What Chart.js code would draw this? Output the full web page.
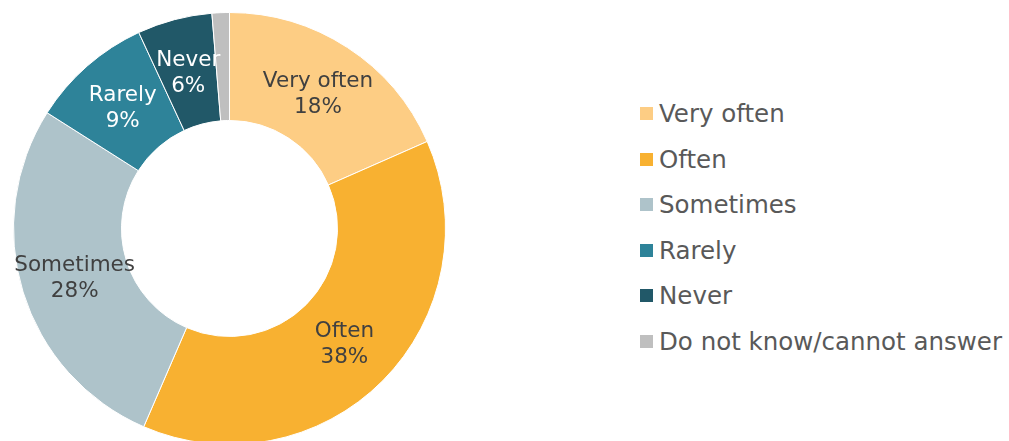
<!DOCTYPE html>
<html>
<head>
<meta charset="utf-8">
<script src="https://cdn.jsdelivr.net/npm/chart.js@4/dist/chart.umd.min.js"></script>
<style>
    html, body { margin: 0; padding: 0; background: #fff; overflow: hidden; width: 1009px; height: 441px; }
    #wrap { position: absolute; left: 13px; top: 12px; width: 433px; height: 433px; }
    #legend { position: absolute; left: 640px; top: 90.7px; font-family: "DejaVu Sans", Verdana, sans-serif; font-size: 24.5px; color: #595959; }
    .row { height: 45.6px; display: flex; align-items: center; white-space: nowrap; }
    .box { width: 13px; height: 13px; margin-right: 6px; flex: none; }
</style>
</head>
<body>
<div id="wrap"><canvas id="pieChart"></canvas></div>
<div id="legend"></div>
<script>
const categories = ['Very often', 'Often', 'Sometimes', 'Rarely', 'Never', 'Do not know/cannot answer'];
const shares = [18.4, 38.1, 27.5, 9.1, 5.6, 1.3];
const colors = ['#FDCD84', '#F8B131', '#AEC3CA', '#2E8399', '#215868', '#BFBFBF'];
const showLabel = [true, true, true, true, true, false];
const labelColors = ['#404040', '#404040', '#404040', '#ffffff', '#ffffff', '#404040'];

// labels inside the slices: name on first line, percent on second
const sliceLabels = {
    id: 'sliceLabels',
    afterDatasetsDraw(chart) {
        const ctx = chart.ctx;
        const arcs = chart.getDatasetMeta(0).data;
        ctx.save();
        ctx.font = '21.5px "DejaVu Sans", Verdana, sans-serif';
        ctx.textAlign = 'center';
        ctx.textBaseline = 'middle';
        arcs.forEach((arc, i) => {
            if (!showLabel[i]) return;
            const p = arc.tooltipPosition();
            ctx.fillStyle = labelColors[i];
            ctx.fillText(categories[i], p.x, p.y - 11);
            ctx.fillText(Math.round(shares[i]) + '%', p.x, p.y + 15);
        });
        ctx.restore();
    }
};

new Chart(document.getElementById('pieChart').getContext('2d'), {
    type: 'doughnut',
    data: {
        labels: categories,
        datasets: [{
            data: shares,
            backgroundColor: colors,
            borderColor: '#ffffff',
            borderWidth: 1,
            hoverOffset: 0,
            offset: 0
        }]
    },
    options: {
        responsive: true,
        maintainAspectRatio: false,
        animation: false,
        events: [],
        cutout: '50%',
        layout: { padding: 0 },
        plugins: {
            legend: { display: false },
            tooltip: { enabled: false }
        }
    },
    plugins: [sliceLabels]
});

const legend = document.getElementById('legend');
categories.forEach((name, i) => {
    const row = document.createElement('div');
    row.className = 'row';
    const box = document.createElement('span');
    box.className = 'box';
    box.style.background = colors[i];
    const txt = document.createElement('span');
    txt.textContent = name;
    row.appendChild(box);
    row.appendChild(txt);
    legend.appendChild(row);
});
</script>
</body>
</html>
